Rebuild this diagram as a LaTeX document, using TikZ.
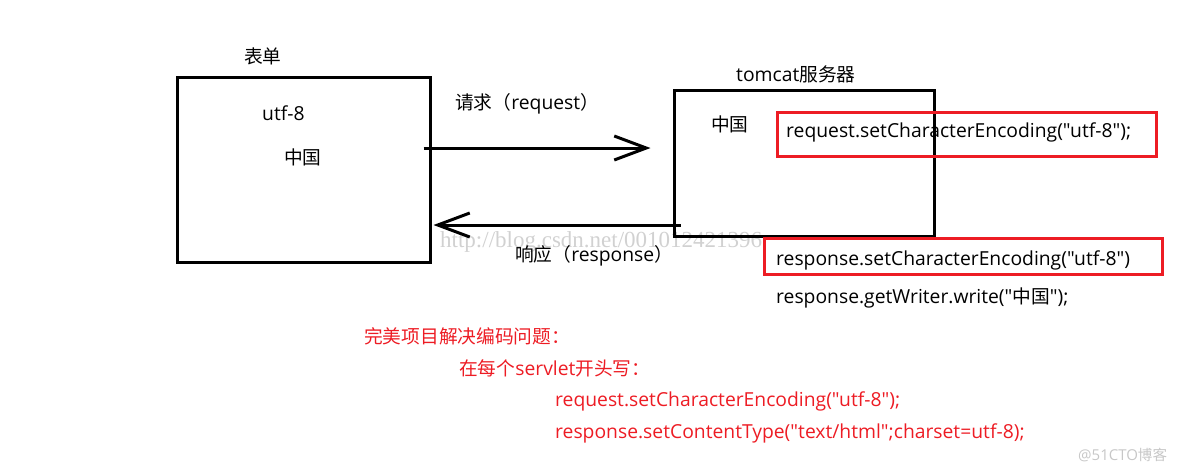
\documentclass[tikz,border=0pt]{standalone}
\usepackage{fontspec}
\setmainfont{Open Sans}[Ligatures=TeXOff]
\newfontfamily\cjk{Noto Sans CJK SC}[Scale=0.97]
\newfontfamily\markfont{Liberation Serif}
\usetikzlibrary{arrows.meta,positioning}
\definecolor{paintred}{RGB}{237,28,36}
\tikzset{
  every picture/.style={x=1pt,y=-1pt},
  txt/.style={inner sep=0pt,anchor=west,font=\fontsize{19.3}{22}\selectfont},
  redtxt/.style={txt,text=paintred},
  block/.style={draw,line width=3pt,inner sep=0pt},
  redbox/.style={draw=paintred,line width=3pt,inner sep=0pt},
  flow/.style={line width=3pt,-{Straight Barb[length=32pt,width=24pt,line width=3pt]}}
}
\begin{document}
\begin{tikzpicture}
  \useasboundingbox (0,0) rectangle (1184,474);
  % watermarks
  \node[txt,text=black!18,font=\markfont\fontsize{23}{24}\selectfont] (wm) at (440,242) {http://blog.csdn.net/001012421396};
  \node[txt,text=black!22,font=\fontsize{15}{18}\selectfont] (wm2) at (1078,455) {@51CTO{\cjk 博客}};
  % boxes
  \node[block,minimum width=253pt,minimum height=185pt] (form) at (303.5,169.5) {};
  \node[block,minimum width=260pt,minimum height=146pt] (server) at (804,163) {};
  \node[txt] (formlbl) at (244,56) {\cjk 表单};
  \node[txt] (srvlbl) at (736,74) {tomcat{\cjk 服务器}};
  \node[txt] (utf) at (262,113) {utf-8};
  \node[txt] (zh1) at (284,157) {\cjk 中国};
  \node[txt] (zh2) at (711,124) {\cjk 中国};
  % arrows
  \draw[flow] ([xshift=-8pt,yshift=21.5pt]form.east) -- ([xshift=-22pt,yshift=15pt]server.west);
  \draw[flow] ([xshift=8pt,yshift=-62pt]server.west) -- ([xshift=2pt,yshift=-55.5pt]form.east);
  \node[txt] (req) at (455,104) {{\cjk 请求（}request{\cjk ）}};
  \node[txt] (resp) at (515,256) {{\cjk 响应（}response{\cjk ）}};
  % server code
  \node[redbox,minimum width=379pt,minimum height=44pt] (rb1) at (966.5,134) {};
  \node[txt] (code1) at (786,132) {request.setCharacterEncoding("utf-8");};
  \node[redbox,minimum width=398pt,minimum height=36pt] (rb2) at (963,256) {};
  \node[txt] (code2) at (776,260) {response.setCharacterEncoding("utf-8")};
  \node[txt] (code3) at (776,298) {response.getWriter.write("{\cjk 中国}");};
  % solution
  \node[redtxt] (sol) at (364,336) {\cjk 完美项目解决编码问题：};
  \node[redtxt] (sol2) at (459,368) {{\cjk 在每个}servlet{\cjk 开头写：}};
  \node[redtxt] (sol3) at (555,401) {request.setCharacterEncoding("utf-8");};
  \node[redtxt] (sol4) at (555,433) {response.setContentType("text/html";charset=utf-8);};
\end{tikzpicture}
\end{document}
